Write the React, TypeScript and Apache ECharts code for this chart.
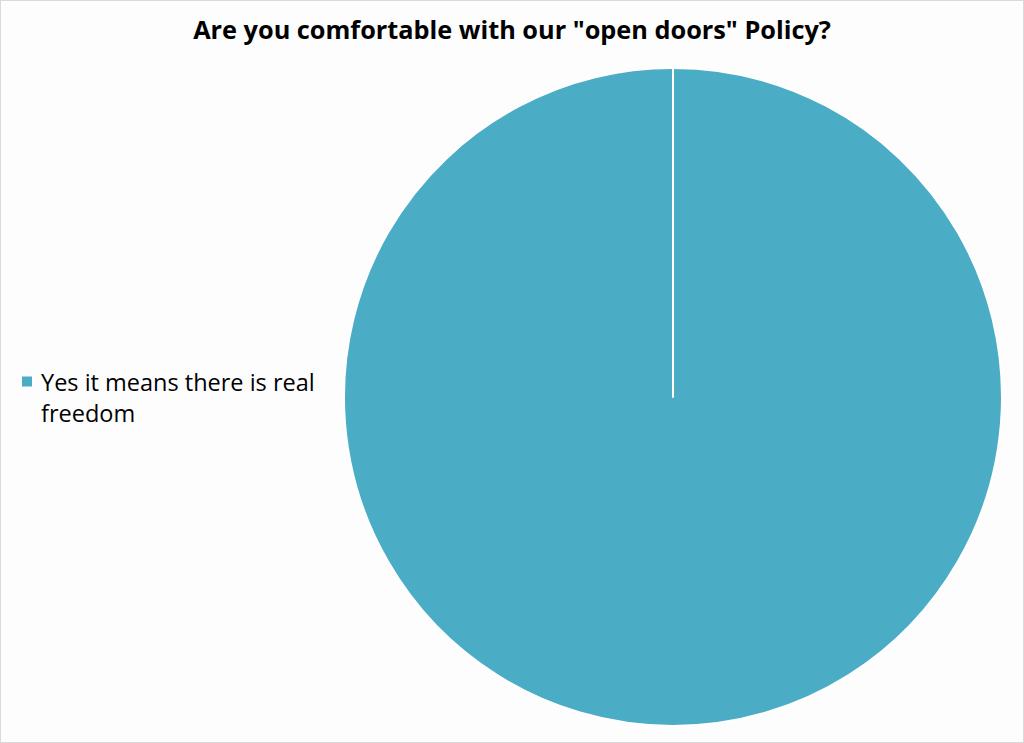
import React, { useEffect, useRef } from "react";
import * as echarts from "echarts";

const titleText = 'Are you comfortable with our "open doors" Policy?';
const categories = ["Yes it means there is real freedom", "No"];
const values = [100, 0];

export default function App() {
  const ref = useRef<HTMLDivElement>(null);
  useEffect(() => {
    document.body.style.margin = "0";
    const chart = echarts.init(ref.current!, null, { renderer: "svg" });
    chart.setOption({
      animation: false,
      backgroundColor: "#fdfdfd",
      title: {
        text: titleText,
        left: "center",
        top: 10,
        textStyle: {
          fontFamily: "Open Sans",
          fontWeight: "bold",
          fontSize: 25.3,
          color: "#000",
        },
      },
      legend: {
        data: [categories[0]],
        orient: "vertical",
        left: 14,
        top: 360,
        icon: "path://M0,0h12v12h-12z M0,42.9h0.1v0.1h-0.1z",
        itemWidth: 12,
        itemHeight: 43,
        formatter: () => "Yes it means there is real\nfreedom",
        textStyle: {
          fontFamily: "Open Sans",
          fontSize: 23.5,
          color: "#000",
          lineHeight: 31,
          padding: [0, 0, 0, 3],
        },
      },
      series: [
        {
          type: "pie",
          center: [672, 396],
          radius: [0, 329],
          startAngle: 90,
          clockwise: true,
          label: { show: false },
          labelLine: { show: false },
          emphasis: { disabled: true },
          itemStyle: { borderColor: "#ffffff", borderWidth: 2 },
          color: ["#4BACC6", "#4BACC6"],
          data: categories.map((c, i) => ({ name: c, value: values[i] })),
        },
      ],
    });
    return () => chart.dispose();
  }, []);
  return (
    <div
      ref={ref}
      style={{
        position: "absolute",
        left: 0,
        top: 0,
        width: 1024,
        height: 743,
        boxSizing: "border-box",
        border: "1px solid #d9d9d9",
      }}
    />
  );
}
